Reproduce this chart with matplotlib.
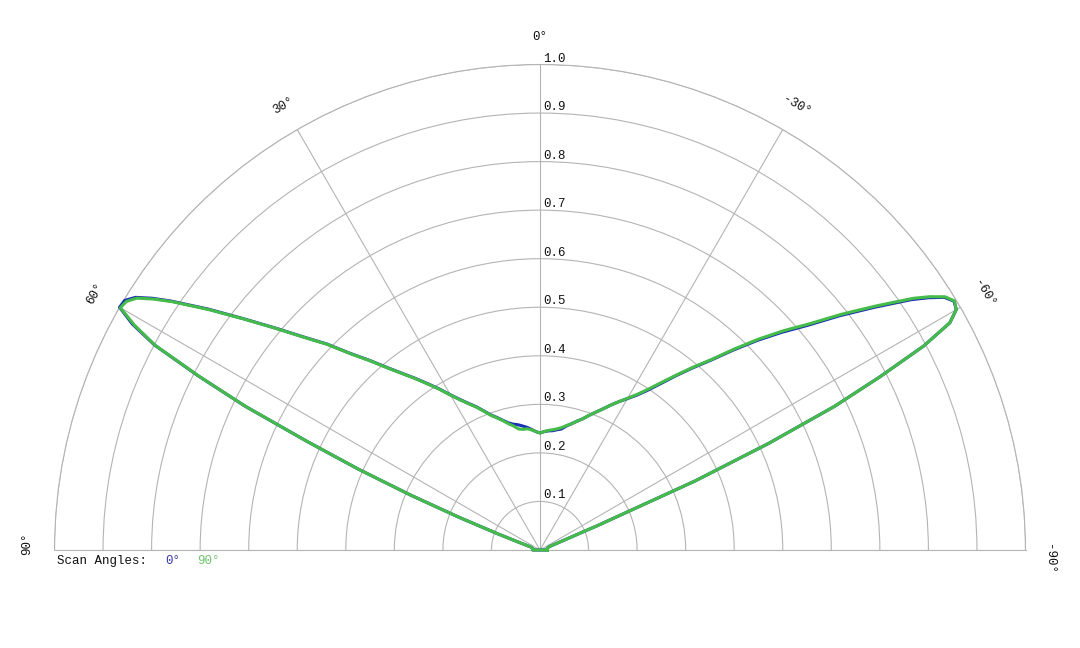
import numpy as np
import matplotlib
matplotlib.use("Agg")
import matplotlib.pyplot as plt
from matplotlib.transforms import offset_copy

# ---- data (angle in degrees, normalised intensity) ----
angles_deg = [-90, -80, -72, -70, -69, -68, -67, -66, -65, -64, -63, -62, -61, -60,
              -59, -58, -57, -56, -54, -52, -50, -48, -46, -44, -42, -40, -38, -36,
              -34, -32, -30, -28, -26, -24, -22, -20, -18, -16, -14, -12, -10, -8,
              -6, -4, -2, 0, 2, 4, 6, 8, 10, 12, 14, 16, 18, 20, 22, 24, 26, 28,
              30, 32, 34, 36, 38, 40, 42, 44, 46, 48, 50, 52, 54, 56, 57, 58, 59,
              60, 61, 62, 63, 64, 65, 66, 67, 68, 69, 70, 72, 80, 90]

r_scan0 = [0.015, 0.015, 0.018, 0.022, 0.030, 0.045, 0.130, 0.350, 0.520, 0.675, 0.786, 0.895, 0.965, 0.990,
           0.995, 0.982, 0.954, 0.922, 0.850, 0.784, 0.720, 0.670, 0.621, 0.572, 0.526, 0.490, 0.456, 0.424,
           0.397, 0.376, 0.360, 0.346, 0.332, 0.318, 0.306, 0.295, 0.284, 0.276, 0.268, 0.261, 0.253, 0.250,
           0.247, 0.246, 0.244, 0.241, 0.244, 0.249, 0.254, 0.258, 0.262, 0.265, 0.270, 0.278, 0.287, 0.296, 0.309, 0.323, 0.336, 0.351,
           0.369, 0.391, 0.413, 0.437, 0.462, 0.491, 0.526, 0.563, 0.611, 0.656, 0.711, 0.773, 0.844, 0.917, 0.952, 0.982, 0.998,
           1.000, 0.960, 0.899, 0.790, 0.676, 0.530, 0.410, 0.290, 0.180, 0.095, 0.045, 0.020, 0.015, 0.015]

r_scan90 = [0.015, 0.015, 0.018, 0.022, 0.030, 0.045, 0.130, 0.350, 0.520, 0.675, 0.786, 0.895, 0.965, 0.990,
            0.996, 0.984, 0.958, 0.927, 0.855, 0.789, 0.725, 0.675, 0.625, 0.575, 0.528, 0.492, 0.458, 0.427,
            0.400, 0.378, 0.361, 0.346, 0.332, 0.318, 0.306, 0.295, 0.284, 0.276, 0.268, 0.262, 0.256, 0.252,
            0.249, 0.247, 0.244, 0.241, 0.244, 0.248, 0.251, 0.251, 0.253, 0.261, 0.268, 0.277, 0.286, 0.295, 0.308, 0.322, 0.335, 0.350,
            0.368, 0.390, 0.412, 0.436, 0.461, 0.490, 0.525, 0.562, 0.610, 0.655, 0.710, 0.772, 0.842, 0.915, 0.949, 0.979, 0.994,
            0.998, 0.955, 0.897, 0.788, 0.675, 0.530, 0.410, 0.290, 0.180, 0.095, 0.045, 0.020, 0.015, 0.015]

theta_ticks = [-90, -60, -30, 0, 30, 60, 90]
theta_labels = ["-90°", "-60°", "-30°", "0°", "30°", "60°", "90°"]
r_ticks = [0.1, 0.2, 0.3, 0.4, 0.5, 0.6, 0.7, 0.8, 0.9, 1.0]
r_labels = ["0.1", "0.2", "0.3", "0.4", "0.5", "0.6", "0.7", "0.8", "0.9", "1.0"]
series_names = ["0°", "90°"]

# ---- style ----
FONT = "Liberation Mono"
GRID = "#b4b4b4"
BLUE = "#1a2fb5"
GREEN = "#45bb4a"
BLUE_TXT = "#3a3aa8"
GREEN_TXT = "#6cc46c"

fig = plt.figure(figsize=(10.8, 6.48), dpi=100)
fig.patch.set_facecolor("white")

# square axes box centred on the half disc (half disc spans x 54.5..1025.5, y 64.5..550 px)
ax = fig.add_axes([54.5 / 1080, (648 - 792.75) / 648, 971 / 1080, 971 / 648],
                  projection="polar")
ax.set_theta_zero_location("N")
ax.set_theta_direction(1)
ax.set_thetamin(-90)
ax.set_thetamax(90)
ax.set_ylim(0, 1.0)

ax.set_thetagrids(theta_ticks, [""] * len(theta_ticks))
ax.set_rgrids(r_ticks, [""] * len(r_ticks))
ax.grid(True, color=GRID, linewidth=0.8)
ax.tick_params(length=0)
for name in ["polar", "start", "end"]:
    ax.spines[name].set_color(GRID)
    ax.spines[name].set_linewidth(0.8)
ax.spines["inner"].set_visible(False)

# closed outlines (last point joined back to the first)
th = np.deg2rad(angles_deg)
th_c = np.append(th, th[0])
ax.plot(th_c, np.append(r_scan0, r_scan0[0]), color=BLUE, linewidth=2.2,
        zorder=3, clip_on=False, solid_joinstyle="round")
ax.plot(th_c, np.append(r_scan90, r_scan90[0]), color=GREEN, linewidth=2.2,
        zorder=4, clip_on=False, solid_joinstyle="round")

# radial labels, just right of and above the 0° line
tr = offset_copy(ax.transData, fig=fig, x=3, y=0, units="dots")
for rv, lab in zip(r_ticks, r_labels):
    ax.text(0, rv, lab, transform=tr, ha="left", va="bottom",
            fontsize=9, family=FONT, color="#111111")

# angle labels, tangential
label_shift = {90: (0, 6), -90: (-4, -9)}
for tv, lab in zip(theta_ticks, theta_labels):
    dx, dy = label_shift.get(tv, (0, 0))
    trt = offset_copy(ax.transData, fig=fig, x=dx, y=dy, units="dots")
    ax.text(np.deg2rad(tv), 1.057, lab, transform=trt, rotation=tv,
            rotation_mode="anchor", ha="center", va="center", fontsize=9,
            family=FONT, color="#111111", clip_on=False)

# legend row
fig.text(57 / 1080, (648 - 561) / 648, "Scan Angles:", ha="left", va="center",
         fontsize=9, family=FONT, color="#111111")
fig.text(165 / 1080, (648 - 561) / 648, series_names[0], ha="left", va="center",
         fontsize=9, family=FONT, color=BLUE_TXT)
fig.text(197 / 1080, (648 - 561) / 648, series_names[1], ha="left", va="center",
         fontsize=9, family=FONT, color=GREEN_TXT)

fig.savefig("out.png", dpi=100, facecolor="white")
